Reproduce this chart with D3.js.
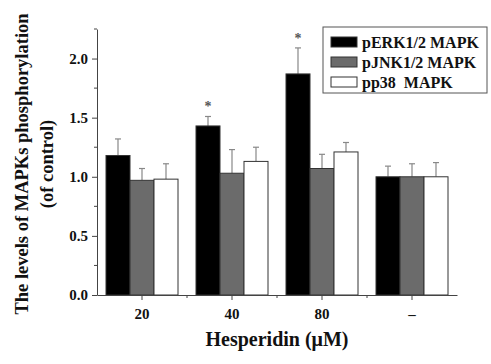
<!DOCTYPE html>
<html lang="en">
<head>
<meta charset="UTF-8">
<script src="https://d3js.org/d3.v7.min.js"></script>
<style>
  body { margin: 0; background: white; }
  text { font-family: "Liberation Serif", "Times New Roman", serif; font-weight: bold; fill: #111; }
  .axis path, .axis line { stroke: #444; }
</style>
</head>
<body>
<div id="chart"></div>
<script>
// data
const doses = ["20", "40", "80", "\u2013"];
const series = ["pERK1/2 MAPK", "pJNK1/2 MAPK", "pp38  MAPK"];
const erk = [1.18, 1.43, 1.87, 1.00];
const jnk = [0.97, 1.03, 1.07, 1.00];
const p38 = [0.98, 1.13, 1.21, 1.00];
const erkErr = [0.14, 0.08, 0.22, 0.09];
const jnkErr = [0.10, 0.20, 0.12, 0.11];
const p38Err = [0.13, 0.12, 0.08, 0.12];
const stars = ["", "*", "*", ""]; // on pERK only
const yTicks = [0, 0.5, 1.0, 1.5, 2.0];

const colors = ["#000000", "#6b6b6b", "#ffffff"];
const vals = [erk, jnk, p38];
const errs = [erkErr, jnkErr, p38Err];

const W = 491, H = 364;
const svg = d3.select("#chart").append("svg").attr("width", W).attr("height", H);

const x0 = d3.scaleBand().domain(doses).range([97, 457]).paddingInner(0.2).paddingOuter(0.1);
const x1 = d3.scaleBand().domain(series).range([0, x0.bandwidth()]);
const y = d3.scaleLinear().domain([0, 2.25]).range([295, 29]);

// bars
const rows = [];
doses.forEach((d, i) => series.forEach((s, j) => rows.push({dose: d, s: s, j: j, v: vals[j][i], e: errs[j][i], i: i})));

// error bars (upper only) drawn behind bars
const eb = svg.append("g");
rows.forEach(r => {
  const cx = x0(r.dose) + x1(r.s) + x1.bandwidth() / 2;
  eb.append("line").attr("x1", cx).attr("x2", cx).attr("y1", y(r.v)).attr("y2", y(r.v + r.e))
    .attr("stroke", "#888").attr("stroke-width", 1.2);
  eb.append("line").attr("x1", cx - 3).attr("x2", cx + 3).attr("y1", y(r.v + r.e)).attr("y2", y(r.v + r.e))
    .attr("stroke", "#888").attr("stroke-width", 1.2);
});

svg.append("g").selectAll("rect").data(rows).join("rect")
  .attr("x", d => x0(d.dose) + x1(d.s))
  .attr("y", d => y(d.v))
  .attr("width", x1.bandwidth())
  .attr("height", d => y(0) - y(d.v))
  .attr("fill", d => colors[d.j])
  .attr("stroke", "#333")
  .attr("stroke-width", 1);

// significance stars
doses.forEach((d, i) => {
  if (!stars[i]) return;
  svg.append("text")
    .attr("x", x0(d) + x1(series[0]) + x1.bandwidth() / 2)
    .attr("y", y(erk[i] + erkErr[i]) - 5)
    .attr("text-anchor", "middle")
    .style("font-size", "14px").style("fill", "#555")
    .text(stars[i]);
});

// y axis
const ya = svg.append("g").attr("class", "axis").attr("transform", "translate(97,0)")
  .call(d3.axisLeft(y).tickValues(yTicks).tickFormat(d3.format(".1f")).tickSize(5).tickSizeOuter(0));
ya.selectAll("text").style("font-size", "15px").attr("x", -9);
ya.append("g").selectAll("line").data([0.25, 0.75, 1.25, 1.75, 2.25]).join("line")
  .attr("x1", -3).attr("x2", 0).attr("y1", d => y(d)).attr("y2", d => y(d)).attr("stroke", "#444");

// x axis
const xa = svg.append("g").attr("class", "axis").attr("transform", "translate(0,295)")
  .call(d3.axisBottom(x0).tickSize(5).tickSizeOuter(0));
xa.selectAll("text").style("font-size", "15px").attr("dy", "1.05em");
xa.append("g").selectAll("line").data(doses.slice(1)).join("line")
  .attr("x1", d => x0(d) - x0.step() * x0.paddingInner() / 2)
  .attr("x2", d => x0(d) - x0.step() * x0.paddingInner() / 2)
  .attr("y1", 0).attr("y2", 3).attr("stroke", "#444");

// axis titles
svg.append("text").attr("x", 277).attr("y", 346).attr("text-anchor", "middle")
  .style("font-size", "20px").text("Hesperidin (\u03bcM)");

const yt = svg.append("g").attr("transform", "translate(0,164) rotate(-90)");
yt.append("text").attr("x", 0).attr("y", 28).attr("text-anchor", "middle")
  .style("font-size", "18.5px").text("The levels of MAPKs phosphorylation");
yt.append("text").attr("x", 0).attr("y", 53).attr("text-anchor", "middle")
  .style("font-size", "18.5px").text("(of control)");

// legend
const lg = svg.append("g").attr("transform", "translate(323,27)");
lg.append("rect").attr("width", 164).attr("height", 66).attr("fill", "white").attr("stroke", "#555");
series.forEach((s, j) => {
  const g = lg.append("g").attr("transform", `translate(8,${10 + j * 20})`);
  g.append("rect").attr("width", 26).attr("height", 10).attr("fill", colors[j]).attr("stroke", "#333");
  g.append("text").attr("x", 31).attr("y", 10.5).style("font-size", "16px")
    .style("white-space", "pre").text(s);
});
</script>
</body>
</html>
